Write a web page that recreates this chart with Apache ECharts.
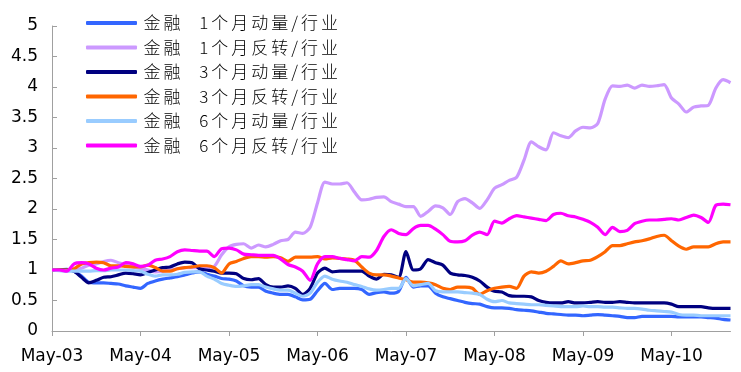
<!DOCTYPE html>
<html>
<head>
<meta charset="utf-8">
<script src="https://cdn.jsdelivr.net/npm/echarts@6/dist/echarts.min.js"></script>
<style>
html,body{margin:0;padding:0;background:#fff;}
#chart{width:741px;height:372px;}
</style>
</head>
<body>
<div id="chart"></div>
<script>
// month names and years used to build the monthly category axis (May-03 .. Jan-11)
const monthNames = ['Jan','Feb','Mar','Apr','May','Jun','Jul','Aug','Sep','Oct','Nov','Dec'];
const yearLabels = ['03','04','05','06','07','08','09','10','11'];
const tickLabels = ['May-03','May-04','May-05','May-06','May-07','May-08','May-09','May-10'];

const seriesNames = [
  '金融 1个月动量/行业',
  '金融 1个月反转/行业',
  '金融 3个月动量/行业',
  '金融 3个月反转/行业',
  '金融 6个月动量/行业',
  '金融 6个月反转/行业'
];
const seriesColors = ['#3366FF','#CC99FF','#000080','#FF6600','#99CCFF','#FF00FF'];

const mom1 = [1.0,1.0,1.01,0.98,0.90,0.80,0.79,0.79,0.78,0.77,0.74,0.72,0.70,0.78,0.82,0.85,0.87,0.89,0.92,0.95,0.97,0.93,0.90,0.86,0.85,0.82,0.74,0.72,0.72,0.65,0.62,0.60,0.60,0.56,0.51,0.52,0.66,0.78,0.68,0.70,0.70,0.70,0.68,0.60,0.63,0.64,0.62,0.65,0.88,0.72,0.74,0.74,0.62,0.56,0.53,0.50,0.47,0.45,0.44,0.40,0.38,0.38,0.37,0.35,0.34,0.33,0.31,0.29,0.28,0.27,0.26,0.26,0.25,0.26,0.27,0.26,0.25,0.24,0.22,0.22,0.24,0.24,0.24,0.24,0.24,0.23,0.23,0.23,0.23,0.22,0.21,0.19,0.18];
const rev1 = [1.0,1.0,0.99,1.0,1.03,1.08,1.10,1.14,1.16,1.12,1.08,1.05,1.02,1.0,0.97,0.98,1.0,1.02,1.04,1.04,1.04,1.04,1.06,1.25,1.38,1.42,1.43,1.36,1.41,1.38,1.42,1.48,1.50,1.62,1.60,1.70,2.10,2.44,2.41,2.41,2.43,2.28,2.15,2.16,2.19,2.20,2.12,2.08,2.04,2.04,1.88,1.96,2.05,2.02,1.91,2.12,2.17,2.10,2.01,2.15,2.34,2.40,2.47,2.52,2.80,3.10,3.02,2.97,3.25,3.20,3.17,3.28,3.34,3.33,3.40,3.80,4.02,4.01,4.03,3.98,4.03,4.01,4.02,4.04,3.82,3.72,3.59,3.67,3.69,3.70,3.98,4.12,4.07];
const mom3 = [1.0,1.0,1.0,0.98,0.88,0.79,0.83,0.88,0.89,0.92,0.95,0.94,0.92,0.96,1.0,1.04,1.05,1.10,1.13,1.12,1.02,1.0,0.98,0.95,0.95,0.94,0.86,0.84,0.86,0.76,0.72,0.72,0.74,0.70,0.60,0.70,0.95,1.03,0.97,0.98,0.98,0.98,0.98,0.90,0.85,0.93,0.92,0.88,1.30,1.0,1.02,1.17,1.12,1.08,0.95,0.92,0.91,0.88,0.82,0.72,0.65,0.64,0.58,0.57,0.57,0.56,0.50,0.47,0.46,0.46,0.48,0.46,0.46,0.47,0.48,0.47,0.47,0.48,0.47,0.46,0.46,0.46,0.46,0.46,0.44,0.40,0.40,0.40,0.40,0.38,0.37,0.37,0.37];
const rev3 = [1.0,1.0,1.0,1.02,1.10,1.12,1.13,1.12,1.07,1.07,1.06,1.05,1.05,1.08,1.04,0.98,0.98,1.02,1.04,1.05,1.07,1.07,1.04,0.95,1.10,1.14,1.19,1.22,1.22,1.21,1.22,1.20,1.14,1.21,1.21,1.21,1.22,1.18,1.20,1.19,1.18,1.16,1.05,0.95,0.92,0.92,0.90,0.87,0.84,0.80,0.80,0.79,0.76,0.70,0.68,0.72,0.72,0.70,0.60,0.66,0.70,0.72,0.73,0.70,0.90,0.97,0.95,0.98,1.06,1.15,1.10,1.12,1.15,1.16,1.22,1.30,1.40,1.40,1.43,1.46,1.48,1.51,1.55,1.57,1.48,1.39,1.34,1.38,1.38,1.38,1.43,1.46,1.46];
const mom6 = [1.0,0.99,0.98,0.98,0.98,0.98,0.99,0.99,1.0,1.0,1.0,0.99,0.98,0.93,0.90,0.92,0.92,0.93,0.96,0.97,0.97,0.90,0.85,0.78,0.75,0.73,0.74,0.76,0.76,0.72,0.69,0.67,0.67,0.62,0.57,0.62,0.80,0.90,0.85,0.82,0.80,0.76,0.73,0.69,0.67,0.68,0.70,0.70,0.86,0.74,0.76,0.78,0.66,0.64,0.64,0.64,0.63,0.62,0.60,0.52,0.48,0.50,0.46,0.45,0.44,0.43,0.43,0.42,0.41,0.40,0.40,0.40,0.41,0.40,0.40,0.39,0.39,0.38,0.37,0.37,0.36,0.34,0.33,0.32,0.31,0.27,0.26,0.26,0.25,0.25,0.25,0.25,0.25];
const rev6 = [1.0,1.0,0.98,1.10,1.12,1.10,1.03,1.0,1.03,1.05,1.12,1.10,1.06,1.08,1.16,1.18,1.22,1.30,1.33,1.32,1.31,1.31,1.22,1.35,1.36,1.33,1.26,1.25,1.24,1.24,1.24,1.18,1.09,1.05,0.98,0.83,1.10,1.22,1.22,1.19,1.17,1.15,1.22,1.21,1.32,1.55,1.66,1.60,1.58,1.68,1.73,1.73,1.67,1.58,1.47,1.46,1.48,1.57,1.62,1.58,1.80,1.77,1.84,1.89,1.87,1.85,1.83,1.81,1.91,1.93,1.89,1.87,1.83,1.78,1.70,1.58,1.70,1.63,1.65,1.76,1.80,1.82,1.82,1.83,1.84,1.82,1.86,1.90,1.86,1.78,2.06,2.08,2.07];

const seriesData = [mom1, rev1, mom3, rev3, mom6, rev6];

// category axis: May-03 through Jan-11 (monthly)
const categories = [];
for (let y = 0; y < yearLabels.length; y++) {
  for (let m = 0; m < 12; m++) {
    if (y === 0 && m < 4) continue;
    if (categories.length >= mom1.length) break;
    categories.push(monthNames[m] + '-' + yearLabels[y]);
  }
}

// legend text: spaced characters like the reference
function spacedLabel(name) {
  return name.split('').map(function (ch) {
    if (ch === ' ') return '{sp| }';
    if (/[0-9\/]/.test(ch)) return '{nb|' + ch + '}';
    return '{cj|' + ch + '}';
  }).join('');
}
const legendFont = {fontFamily: '"Noto Sans CJK SC"', fontSize: 17, fontWeight: 300, color: '#000', lineHeight: 18};

const chart = echarts.init(document.getElementById('chart'), null, {renderer: 'canvas'});
const axisGray = '#A0A0A0';
chart.setOption({
  animation: false,
  backgroundColor: '#ffffff',
  color: seriesColors,
  grid: {left: 52, right: 10.5, top: 26, bottom: 41, containLabel: false},
  legend: {
    orient: 'vertical',
    left: 86,
    top: 14,
    padding: 0,
    icon: 'roundRect',
    itemWidth: 51,
    itemHeight: 4,
    itemGap: 6.5,
    formatter: spacedLabel,
    textStyle: {
      fontFamily: '"Noto Sans CJK SC"', fontSize: 17, color: '#000', lineHeight: 18,
      rich: {
        cj: Object.assign({padding: [0, 1.5, 0, 1.5]}, legendFont),
        nb: Object.assign({padding: [0, 1.5, 0, 1.5]}, legendFont),
        sp: Object.assign({padding: [0, 6, 0, 6]}, legendFont)
      }
    },
    data: seriesNames
  },
  xAxis: {
    type: 'category',
    boundaryGap: false,
    data: categories,
    axisLine: {lineStyle: {color: axisGray, width: 1}},
    axisTick: {show: true, interval: 11, length: 5, lineStyle: {color: axisGray}},
    axisLabel: {
      interval: 11,
      margin: 17,
      fontFamily: '"DejaVu Sans"',
      fontSize: 17,
      color: '#000',
      formatter: function (v) { return tickLabels.indexOf(v) >= 0 ? v : ''; }
    },
    splitLine: {show: false}
  },
  yAxis: {
    type: 'value',
    min: 0,
    max: 5,
    interval: 0.5,
    axisLine: {show: true, lineStyle: {color: axisGray, width: 1}},
    axisTick: {show: true, inside: true, length: 5, lineStyle: {color: axisGray}},
    axisLabel: {fontFamily: '"DejaVu Sans"', fontSize: 17, color: '#000', margin: 14},
    splitLine: {show: false}
  },
  series: seriesNames.map(function (name, k) {
    return {
      name: name,
      type: 'line',
      data: seriesData[k],
      symbol: 'none',
      smooth: 0.25,
      lineStyle: {width: 3.2, color: seriesColors[k]},
      itemStyle: {color: seriesColors[k]}
    };
  })
});
</script>
</body>
</html>
